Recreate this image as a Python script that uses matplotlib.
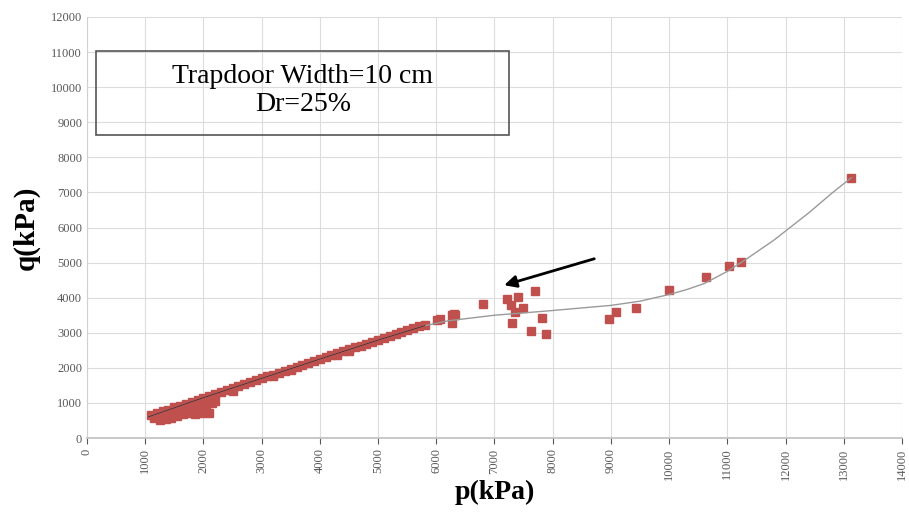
import matplotlib.pyplot as plt
from matplotlib.patches import Rectangle

plt.rcParams['font.family'] = ['Liberation Serif', 'DejaVu Serif']

# dense band of measured points
band_p = [1100, 1200, 1300, 1400, 1500, 1600, 1700, 1800, 1900, 2000,
          2100, 2200, 2300, 2400, 2500, 2600, 2700, 2800, 2900, 3000,
          3100, 3200, 3300, 3400, 3500, 3600, 3700, 3800, 3900, 4000,
          4100, 4200, 4300, 4400, 4500, 4600, 4700, 4800, 4900, 5000,
          5100, 5200, 5300, 5400, 5500, 5600, 5700, 5800]
band_q = [650, 700, 760, 810, 870, 920, 980, 1030, 1090, 1140,
          1200, 1250, 1310, 1365, 1420, 1480, 1530, 1590, 1645, 1700,
          1755, 1810, 1865, 1920, 1975, 2030, 2085, 2140, 2195, 2250,
          2305, 2360, 2415, 2470, 2525, 2580, 2635, 2690, 2745, 2800,
          2855, 2910, 2965, 3020, 3075, 3130, 3180, 3230]

# points lying just below the band
low_p = [1150, 1200, 1250, 1300, 1350, 1450, 1500, 1550, 1650, 1700,
         1750, 1800, 1850, 1900, 1950, 2000, 2050, 2100, 2150, 2200,
         2500, 3200, 3500, 4300, 4500]
low_q = [560, 600, 520, 600, 540, 580, 700, 620, 680, 780,
         700, 800, 690, 850, 720, 900, 760, 700, 1000, 1050,
         1350, 1770, 1930, 2380, 2480]

# scattered points past the linear part
far_p = [6014, 6065, 6269, 6303, 6326, 6269, 6809, 7223, 7291, 7405,
         7348, 7490, 7690, 7308, 7808, 7626, 7893, 8967, 9080, 9432,
         10006, 10625, 11028, 11232, 13130]
far_q = [3364, 3392, 3506, 3535, 3506, 3278, 3820, 3962, 3791, 4010,
         3601, 3715, 4200, 3269, 3411, 3041, 2955, 3383, 3601, 3715,
         4219, 4590, 4894, 5027, 7420]

# trendline
trend_p = [1050, 2000, 3000, 4000, 5000, 5800, 6200, 7000, 7900, 9000,
           9500, 10000, 10300, 10600, 11000, 11300, 11800, 12000, 12400, 12800, 13130]
trend_q = [600, 1150, 1700, 2250, 2790, 3200, 3340, 3500, 3620, 3780,
           3900, 4090, 4230, 4400, 4750, 5070, 5640, 5900, 6420, 6984, 7420]

red = '#c0504d'

fig = plt.figure(figsize=(9.09, 5.15), dpi=100)
ax = fig.add_axes([0.0957, 0.1495, 0.8966, 0.8175])

ax.plot(band_p, band_q, 's', color=red, markersize=6, zorder=3)
ax.plot(low_p, low_q, 's', color=red, markersize=6, zorder=3)
ax.plot(far_p, far_q, 's', color=red, markersize=5.5, zorder=3)
ax.plot(trend_p, trend_q, '-', color='#9a9a9a', lw=1, zorder=4)
ax.plot(trend_p[:6], trend_q[:6], '-', color='#6b2523', lw=0.8, zorder=4)

ax.set_xlim(0, 14000)
ax.set_ylim(0, 12000)
ax.set_xticks(range(0, 14001, 1000))
ax.set_yticks(range(0, 12001, 1000))
ax.tick_params(axis='x', labelrotation=90, labelsize=9, colors='#595959',
               length=4, width=0.8)
ax.tick_params(axis='y', labelsize=9, colors='#595959', length=0)
ax.grid(True, color='#dcdcdc', lw=0.8)
ax.set_axisbelow(True)
for s in ['top', 'right']:
    ax.spines[s].set_visible(False)
ax.spines['left'].set_color('#d0d0d0')
ax.spines['bottom'].set_color('#bfbfbf')
ax.spines['bottom'].set_linewidth(1.2)

ax.set_xlabel('p(kPa)', fontsize=20, fontweight='bold', labelpad=0)
ax.set_ylabel('q(kPa)', fontsize=21, fontweight='bold', labelpad=8)

ax.add_patch(Rectangle((153, 8637), 7100, 2395, fill=False,
                       edgecolor='#555555', lw=1.2, zorder=5))
ax.text(3710, 10300, 'Trapdoor Width=10 cm', ha='center', va='center', fontsize=20)
ax.text(3710, 9520, 'Dr=25%', ha='center', va='center', fontsize=20)

ax.annotate('', xy=(7120, 4333), xytext=(8760, 5131),
            arrowprops=dict(arrowstyle='-|>', color='black', lw=2,
                            mutation_scale=18))

fig.savefig('out.png', dpi=100)
